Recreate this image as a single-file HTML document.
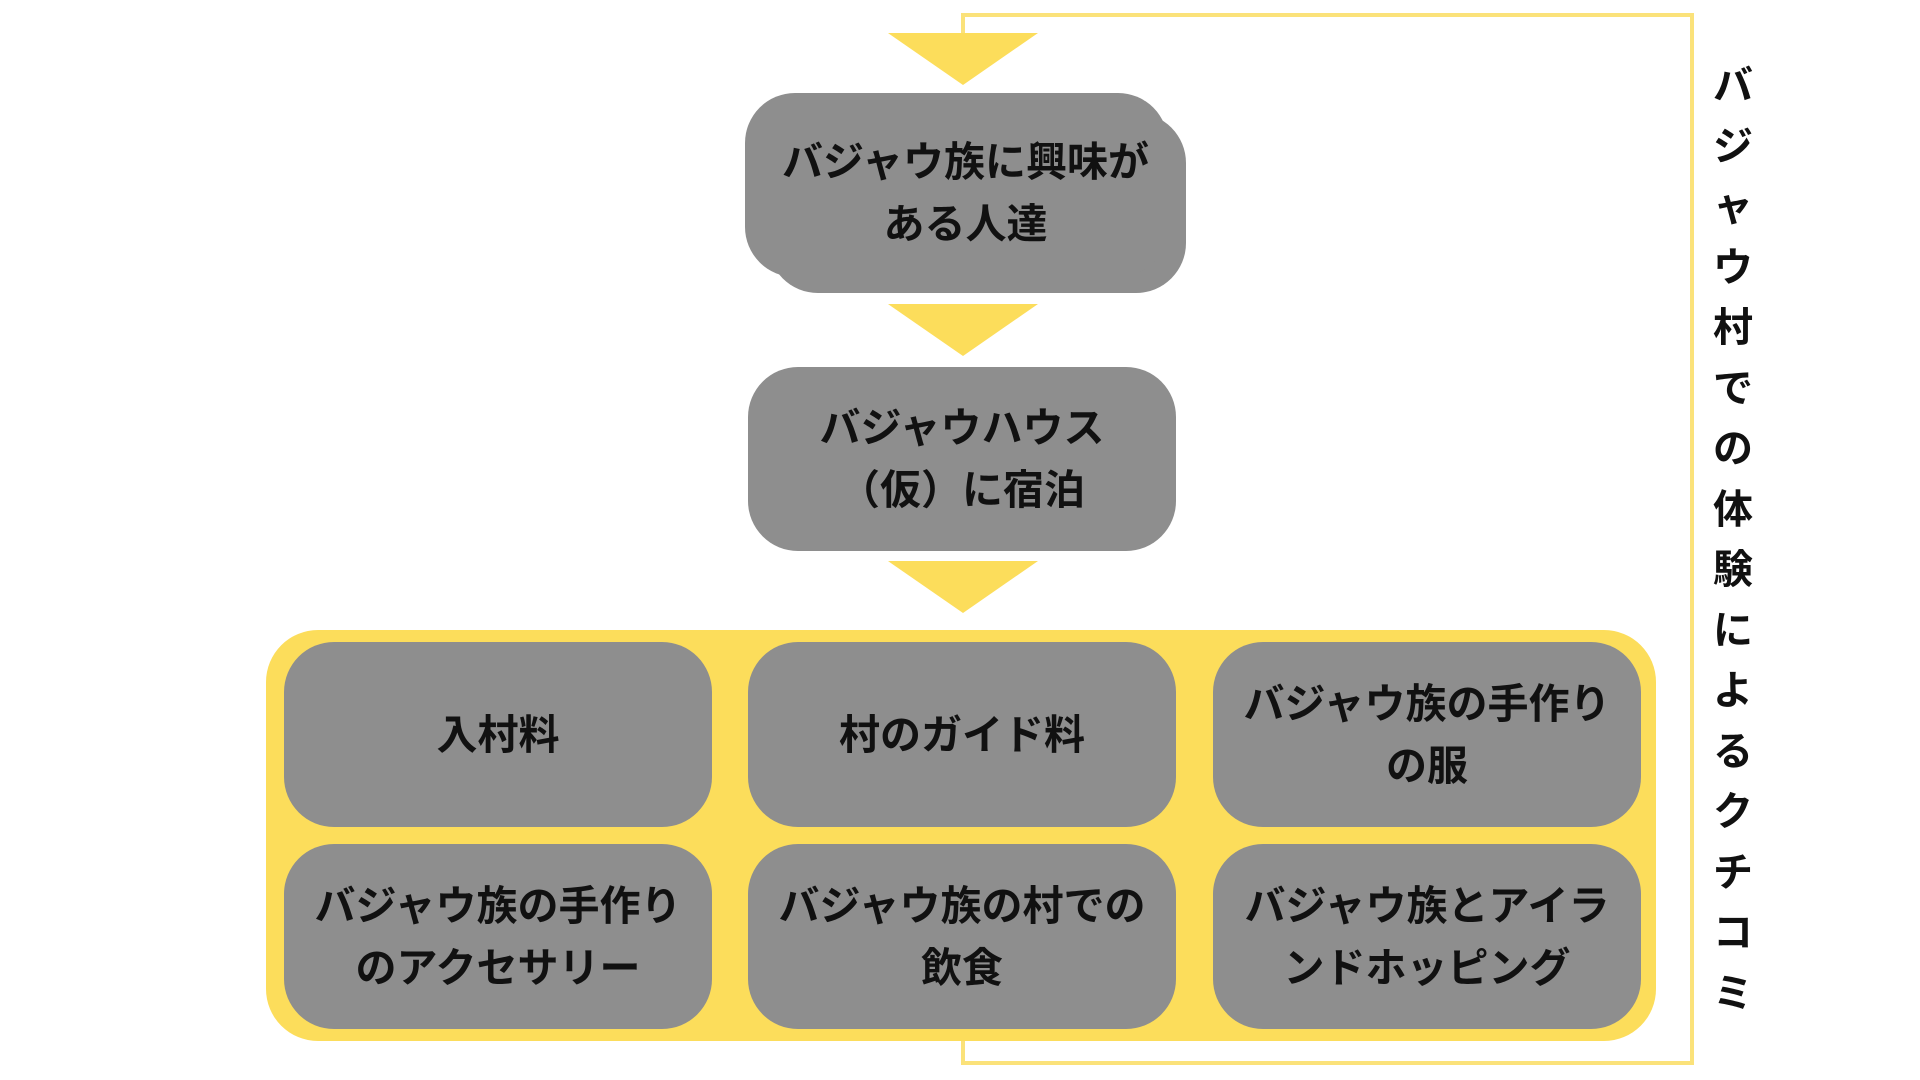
<!DOCTYPE html>
<html><head><meta charset="utf-8"><style>
body{margin:0;width:1920px;height:1080px;background:#fff;position:relative;overflow:hidden;font-family:"Liberation Sans","Noto Sans CJK JP",sans-serif;font-weight:bold;color:#111}
.b{position:absolute;background:#8e8e8e;border-radius:50px;display:flex;align-items:center;justify-content:center;text-align:center;font-size:41px;line-height:62px}
.t{position:absolute;width:0;height:0;border-left:75px solid transparent;border-right:75px solid transparent;border-top:52px solid #fcdd5b}
.v{position:absolute;left:1708px;top:56px;width:50px;font-size:40px;line-height:60.5px;text-align:center}
.l{position:absolute;background:#fbe27a}
</style></head><body>
<div class="l" style="left:961px;top:13px;width:733px;height:4px"></div>
<div class="l" style="left:1690px;top:13px;width:4px;height:1052px"></div>
<div class="l" style="left:961px;top:1061px;width:733px;height:4px"></div>
<div class="l" style="left:961px;top:13px;width:4px;height:25px"></div>
<div class="l" style="left:961px;top:1030px;width:4px;height:35px"></div>
<div style="position:absolute;left:266px;top:630px;width:1390px;height:411px;background:#fcdd5b;border-radius:52px"></div>
<div class="t" style="left:888px;top:33px"></div>
<div class="t" style="left:888px;top:304px"></div>
<div class="t" style="left:888px;top:561px"></div>
<div class="b" style="left:768px;top:113px;width:418px;height:180px"></div>
<div class="b" style="left:745px;top:93px;width:423px;height:184px"></div>
<div class="b" style="left:745px;top:93px;width:441px;height:200px;background:transparent">バジャウ族に興味が<br>ある人達</div>
<div class="b" style="left:748px;top:367px;width:428px;height:184px">バジャウハウス<br>（仮）に宿泊</div>
<div class="b" style="left:284px;top:642px;width:428px;height:185px">入村料</div>
<div class="b" style="left:748px;top:642px;width:428px;height:185px">村のガイド料</div>
<div class="b" style="left:1213px;top:642px;width:428px;height:185px">バジャウ族の手作り<br>の服</div>
<div class="b" style="left:284px;top:844px;width:428px;height:185px">バジャウ族の手作り<br>のアクセサリー</div>
<div class="b" style="left:748px;top:844px;width:428px;height:185px">バジャウ族の村での<br>飲食</div>
<div class="b" style="left:1213px;top:844px;width:428px;height:185px">バジャウ族とアイラ<br>ンドホッピング</div>
<div class="v">バ<br>ジ<br>ャ<br>ウ<br>村<br>で<br>の<br>体<br>験<br>に<br>よ<br>る<br>ク<br>チ<br>コ<br>ミ</div>
</body></html>
